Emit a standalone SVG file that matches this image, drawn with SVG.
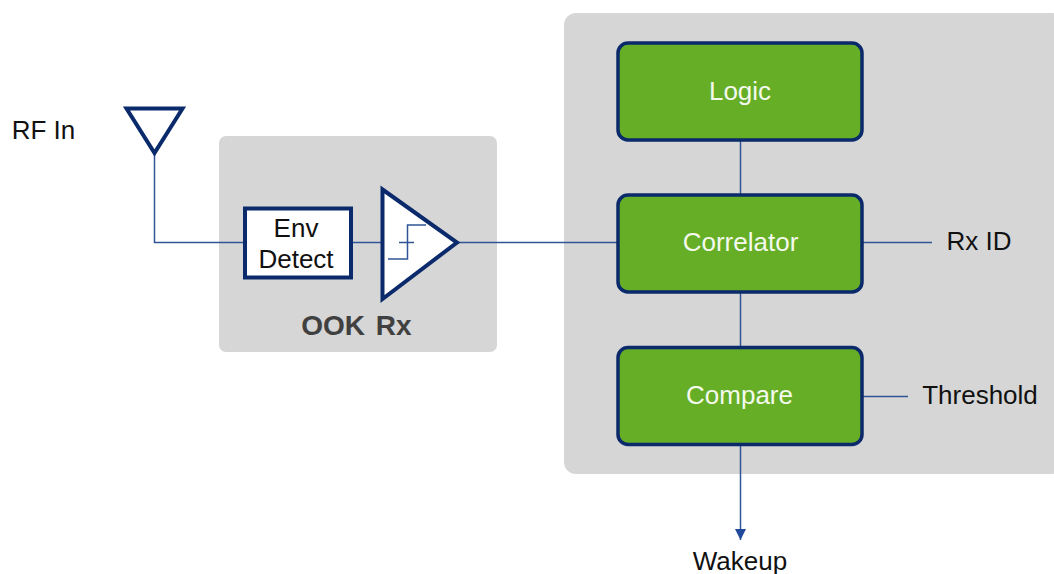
<svg xmlns="http://www.w3.org/2000/svg" width="1054" height="574" viewBox="0 0 1054 574">
<style>
text{font-family:"Liberation Sans",Arial,sans-serif;font-size:26px;text-anchor:middle;fill:#111}
.panel{fill:#d6d6d6}
.block{fill:#65ae25;stroke:#0b2a6b;stroke-width:3.5}
.block+text{fill:#f4f9ee}
.sym{fill:#fff;stroke:#0b2a6b;stroke-width:4;stroke-linejoin:miter}
.wire{fill:none;stroke:#2f5597;stroke-width:1.5}
</style>
<defs><marker id="arrow" markerUnits="userSpaceOnUse" markerWidth="12" markerHeight="12" refX="11" refY="6" orient="auto"><path d="M0,0.5L11,6L0,11.500z" fill="#1f4a9c"/></marker></defs>
<g id="panel-ook"><rect class="panel" x="219" y="136" width="278" height="216" rx="7"/><text x="356.500" y="335" style="font-weight:bold;font-size:28px;fill:#404040;word-spacing:3px">OOK Rx</text></g>
<g id="panel-digital"><rect class="panel" x="564" y="13" width="500" height="461" rx="12"/></g>
<g id="connectors">
<path class="wire" d="M154.500 153V242.500H244"/>
<path class="wire" d="M352 242.500H382"/>
<path class="wire" d="M458 242.500H618"/>
<path class="wire" d="M740.500 140V194"/>
<path class="wire" d="M740.500 292V347"/>
<path class="wire" d="M862 242.500H932"/>
<path class="wire" d="M862 396.500H908"/>
<path class="wire" d="M740.500 445V540" marker-end="url(#arrow)" stroke="#1f4a9c"/>
</g>
<g id="rf-in"><text x="43.500" y="139">RF In</text></g>
<g id="antenna"><path class="sym" d="M126.500 108.500H182.500L154.500 153z"/></g>
<g id="env-detect"><rect class="sym" x="245" y="208.500" width="106" height="69"/><text x="296" y="237">Env</text><text x="296" y="268">Detect</text></g>
<g id="comparator"><path class="sym" d="M382.500 189.500L457 242.500L382.500 299z"/>
<path class="wire" d="M388 259H407.500V225H426M399 242.500H414"/></g>
<g id="logic"><rect class="block" x="618" y="43" width="244" height="97" rx="10"/><text x="740" y="100">Logic</text></g>
<g id="correlator"><rect class="block" x="618" y="195" width="244" height="97" rx="10"/><text x="740.500" y="251">Correlator</text></g>
<g id="compare"><rect class="block" x="618" y="347.500" width="244" height="97" rx="10"/><text x="739.500" y="404">Compare</text></g>
<g id="rx-id"><text x="979" y="250">Rx ID</text></g>
<g id="threshold"><text x="980" y="404">Threshold</text></g>
<g id="wakeup"><text x="740" y="570">Wakeup</text></g>
</svg>
